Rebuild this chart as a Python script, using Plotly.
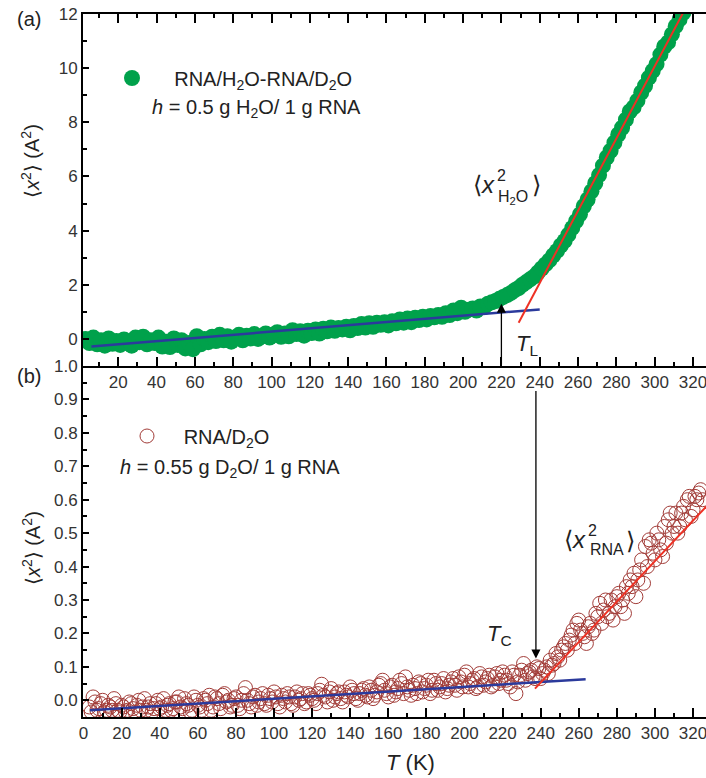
import plotly.graph_objects as go

# ---------------- data ----------------
# (a) RNA/H2O - RNA/D2O, filled green circles
T_a = [3, 5, 7, 9, 11, 13, 15, 17, 19, 21, 23, 25, 27, 29, 31, 33, 35, 37, 39, 41,
       43, 45, 47, 49, 51, 53, 55, 57, 59, 61, 63, 65, 67, 69, 71, 73, 75, 77, 79, 81,
       83, 85, 87, 89, 91, 93, 95, 97, 99, 101, 103, 105, 107, 109, 111, 113, 115, 117, 119, 121,
       123, 125, 127, 129, 131, 133, 135, 137, 139, 141, 143, 145, 147, 149, 151, 153, 155, 157, 159, 161,
       163, 165, 167, 169, 171, 173, 175, 177, 179, 181, 183, 185, 187, 189, 191, 193, 195, 197, 199, 201,
       203, 205, 207, 209, 211, 213, 215, 217, 219, 221, 223, 225, 227, 229, 231, 233, 235, 237, 239, 241,
       243, 245, 247, 249, 251, 253, 255, 257, 259, 261, 263, 265, 267, 269, 271, 273, 275, 277, 279, 281,
       283, 285, 287, 289, 291, 293, 295, 297, 299, 301, 303, 305, 307, 309, 311, 313, 315, 317]
x2_a = [0.00, -0.15, 0.05, -0.20, -0.05, -0.25, 0.02, -0.18, -0.08, -0.22,
        -0.02, -0.15, -0.25, 0.05, -0.12, 0.08, -0.20, -0.05, -0.15, 0.05,
        -0.28, -0.10, -0.30, 0.02, -0.22, -0.05, -0.35, -0.15, -0.38, 0.10,
        -0.20, 0.00, -0.12, 0.08, -0.08, 0.15, -0.05, 0.10, -0.10, 0.05,
        0.15, -0.05, 0.12, 0.02, 0.18, 0.00, 0.10, 0.20, 0.05, 0.15,
        0.25, 0.08, 0.20, 0.10, 0.32, 0.18, 0.28, 0.12, 0.30, 0.22,
        0.35, 0.20, 0.38, 0.28, 0.42, 0.30, 0.40, 0.35, 0.45, 0.32,
        0.48, 0.40, 0.55, 0.42, 0.58, 0.45, 0.60, 0.52, 0.62, 0.50,
        0.65, 0.58, 0.72, 0.60, 0.75, 0.62, 0.78, 0.70, 0.82, 0.72,
        0.85, 0.80, 0.88, 0.82, 0.95, 0.88, 1.05, 0.95, 1.15, 1.00,
        1.08, 1.12, 1.05, 1.20, 1.18, 1.30, 1.35, 1.40, 1.48, 1.55,
        1.62, 1.70, 1.80, 1.88, 2.00, 2.10, 2.20, 2.30, 2.45, 2.60,
        2.75, 2.90, 3.08, 3.25, 3.45, 3.62, 3.85, 4.10, 4.35, 4.60,
        4.90, 5.15, 5.45, 5.75, 6.05, 6.40, 6.70, 6.95, 7.25, 7.55,
        7.80, 8.10, 8.40, 8.55, 8.80, 9.10, 9.35, 9.65, 9.90, 10.15,
        10.50, 10.80, 10.95, 11.25, 11.55, 11.80, 12.05, 12.30]

# (b) RNA/D2O, open circles (two interleaved runs of points)
T_b1 = [3, 5, 7, 9, 11, 13, 15, 17, 19, 21, 23, 25, 27, 29, 31, 33, 35, 37, 39, 41,
        43, 45, 47, 49, 51, 53, 55, 57, 59, 61, 63, 65, 67, 69, 71, 73, 75, 77, 79, 81,
        83, 85, 87, 89, 91, 93, 95, 97, 99, 101, 103, 105, 107, 109, 111, 113, 115, 117, 119, 121,
        123, 125, 127, 129, 131, 133, 135, 137, 139, 141, 143, 145, 147, 149, 151, 153, 155, 157, 159, 161,
        163, 165, 167, 169, 171, 173, 175, 177, 179, 181, 183, 185, 187, 189, 191, 193, 195, 197, 199, 201,
        203, 205, 207, 209, 211, 213, 215, 217, 219, 221, 223, 225, 227, 229, 231, 233, 235, 237, 239, 241,
        243, 245, 247, 249, 251, 253, 255, 257, 259, 261, 263, 265, 267, 269, 271, 273, 275, 277, 279, 281,
        283, 285, 287, 289, 291, 293, 295, 297, 299, 301, 303, 305, 307, 309, 311, 313, 315, 317, 319, 321,
        323, 325]
x2_b1 = [-0.020, 0.010, -0.030, -0.010, -0.035, -0.015, -0.030, -0.010, -0.035, -0.020,
         -0.030, -0.010, -0.035, 0.000, -0.020, -0.030, -0.010, -0.025, 0.000, -0.020,
         -0.030, -0.010, -0.025, -0.005, -0.020, 0.005, -0.015, -0.030, 0.000, -0.020,
         0.005, -0.010, -0.030, 0.010, -0.010, 0.015, -0.005, -0.020, 0.005, -0.015,
         0.000, 0.038, -0.010, 0.010, -0.015, 0.005, -0.010, 0.015, -0.005, 0.010,
         -0.020, 0.005, 0.020, -0.010, 0.010, 0.000, 0.020, -0.005, 0.015, 0.000,
         0.020, 0.048, 0.010, 0.025, 0.000, 0.020, 0.005, 0.025, 0.010, 0.030,
         0.005, 0.020, 0.035, 0.010, 0.030, 0.015, 0.045, 0.060, 0.020, 0.040,
         0.015, 0.035, 0.050, 0.070, 0.030, 0.045, 0.020, 0.050, 0.035, 0.060,
         0.030, 0.050, 0.040, 0.065, 0.035, 0.055, 0.045, 0.070, 0.040, 0.085,
         0.050, 0.065, 0.040, 0.070, 0.055, 0.075, 0.045, 0.080, 0.060, 0.075,
         0.050, 0.085, 0.020, 0.075, 0.110, 0.080, 0.090, 0.065, 0.095, 0.080,
         0.100, 0.120, 0.110, 0.130, 0.150, 0.170, 0.180, 0.210, 0.230, 0.210,
         0.190, 0.220, 0.200, 0.260, 0.290, 0.270, 0.250, 0.300, 0.280, 0.320,
         0.300, 0.340, 0.360, 0.380, 0.360, 0.420, 0.460, 0.480, 0.440, 0.500,
         0.450, 0.520, 0.540, 0.500, 0.560, 0.520, 0.580, 0.600, 0.550, 0.610,
         0.620, 0.600]
T_b2 = [4, 6, 8, 10, 12, 14, 16, 18, 20, 22, 24, 26, 28, 30, 32, 34, 36, 38, 40, 42,
        44, 46, 48, 50, 52, 54, 56, 58, 60, 62, 64, 66, 68, 70, 72, 74, 76, 78, 80, 82,
        84, 86, 88, 90, 92, 94, 96, 98, 100, 102, 104, 106, 108, 110, 112, 114, 116, 118, 120, 122,
        124, 126, 128, 130, 132, 134, 136, 138, 140, 142, 144, 146, 148, 150, 152, 154, 156, 158, 160, 162,
        164, 166, 168, 170, 172, 174, 176, 178, 180, 182, 184, 186, 188, 190, 192, 194, 196, 198, 200, 202,
        204, 206, 208, 210, 212, 214, 216, 218, 220, 222, 224, 226, 228, 230, 232, 234, 236, 238, 240, 242,
        244, 246, 248, 250, 252, 254, 256, 258, 260, 262, 264, 266, 268, 270, 272, 274, 276, 278, 280, 282,
        284, 286, 288, 290, 292, 294, 296, 298, 300, 302, 304, 306, 308, 310, 312, 314, 316, 318, 320, 322,
        324]
x2_b2 = [-0.035, -0.005, -0.025, 0.000, -0.030, -0.020, 0.005, -0.030, -0.015, -0.035,
         -0.005, -0.025, -0.015, -0.030, 0.005, -0.020, -0.035, -0.010, -0.025, 0.005,
         -0.015, -0.030, -0.005, 0.010, -0.025, -0.010, -0.035, 0.010, -0.015, -0.030,
         0.000, 0.015, -0.020, 0.005, -0.025, 0.020, 0.000, -0.015, 0.010, -0.025,
         0.020, 0.000, -0.020, 0.015, -0.005, 0.020, -0.015, 0.005, 0.025, -0.010,
         0.015, -0.005, 0.010, -0.015, 0.025, 0.005, -0.010, 0.020, 0.005, -0.010,
         0.030, 0.015, -0.005, 0.035, 0.010, 0.025, -0.005, 0.015, 0.040, 0.020,
         0.000, 0.030, 0.015, 0.040, 0.005, 0.025, 0.050, 0.030, 0.010, 0.045,
         0.025, 0.060, 0.020, 0.040, 0.015, 0.035, 0.055, 0.025, 0.045, 0.020,
         0.060, 0.030, 0.050, 0.025, 0.045, 0.065, 0.030, 0.055, 0.075, 0.040,
         0.060, 0.035, 0.080, 0.045, 0.065, 0.040, 0.070, 0.050, 0.085, 0.060,
         0.040, 0.075, 0.055, 0.090, 0.060, 0.085, 0.070, 0.100, 0.065, 0.090,
         0.080, 0.105, 0.140, 0.120, 0.160, 0.150, 0.195, 0.170, 0.240, 0.200,
         0.170, 0.230, 0.210, 0.250, 0.230, 0.300, 0.260, 0.240, 0.310, 0.280,
         0.260, 0.320, 0.340, 0.310, 0.390, 0.350, 0.400, 0.470, 0.420, 0.480,
         0.430, 0.470, 0.560, 0.520, 0.500, 0.560, 0.540, 0.610, 0.570, 0.600,
         0.630]

# fitted straight lines (end points)
fit_low_a_T = [6, 240]
fit_low_a_y = [-0.28, 1.09]
fit_high_a_T = [229, 316]
fit_high_a_y = [0.60, 12.2]
fit_low_b_T = [3.4, 263.6]
fit_low_b_y = [-0.030, 0.063]
fit_high_b_T = [237, 327]
fit_high_b_y = [0.035, 0.580]

T_L, T_L_tip, T_L_base = 220, 1.30, -1.0
T_C, T_C_tip, T_C_top = 237.5, 0.125, 0.93

x_ticks_a = list(range(20, 321, 20))
x_ticks_b = list(range(0, 321, 20))
y_ticks_a = [0, 2, 4, 6, 8, 10, 12]
y_ticks_b = [0.0, 0.1, 0.2, 0.3, 0.4, 0.5, 0.6, 0.7, 0.8, 0.9, 1.0]

# ---------------- figure ----------------
W, H = 706, 778
ML, MR, MT, MB = 83, 0, 14, 61
FONT = "Liberation Sans, Arial, sans-serif"
GREEN = "#00a14b"
BROWN = "#a23c38"
BLUE = "#2b3a9c"
RED = "#ee3124"

fig = go.Figure()

fig.add_trace(go.Scatter(x=T_a, y=x2_a, mode="markers", xaxis="x2", yaxis="y2",
                         marker=dict(size=16, color=GREEN, line=dict(width=0)),
                         name="\u00a0\u00a0\u00a0\u00a0RNA/H<sub>2</sub>O-RNA/D<sub>2</sub>O",
                         legend="legend"))
fig.add_trace(go.Scatter(x=fit_low_a_T, y=fit_low_a_y, mode="lines", xaxis="x2", yaxis="y2",
                         line=dict(color=BLUE, width=2.5), showlegend=False))
fig.add_trace(go.Scatter(x=fit_high_a_T, y=fit_high_a_y, mode="lines", xaxis="x2", yaxis="y2",
                         line=dict(color=RED, width=2), showlegend=False))

fig.add_trace(go.Scatter(x=T_b1 + T_b2, y=x2_b1 + x2_b2, mode="markers", xaxis="x", yaxis="y",
                         marker=dict(size=14, color=BROWN, symbol="circle-open",
                                     line=dict(width=1.0, color=BROWN)),
                         name="\u00a0\u00a0\u00a0RNA/D<sub>2</sub>O", legend="legend2"))
fig.add_trace(go.Scatter(x=fit_low_b_T, y=fit_low_b_y, mode="lines", xaxis="x", yaxis="y",
                         line=dict(color=BLUE, width=2.5), showlegend=False))
fig.add_trace(go.Scatter(x=fit_high_b_T, y=fit_high_b_y, mode="lines", xaxis="x", yaxis="y",
                         line=dict(color=RED, width=2), showlegend=False))

def xax(rng, ticks, anchor, mirror):
    return dict(range=rng, tickvals=ticks, ticktext=[str(t) for t in ticks], anchor=anchor,
                showline=True, linecolor="black", linewidth=2, mirror=mirror,
                ticks="inside", ticklen=9, tickwidth=2, tickcolor="black",
                minor=dict(dtick=10, ticks="inside", ticklen=4, tickwidth=2, tickcolor="black"),
                showgrid=False, zeroline=False, ticklabeloverflow="allow",
                tickfont=dict(family=FONT, size=17, color="#333333"))

def yax(rng, ticks, labels, anchor, domain, minor_dtick):
    return dict(range=rng, tickvals=ticks, ticktext=labels, anchor=anchor, domain=domain,
                showline=True, linecolor="black", linewidth=2, mirror=False,
                ticks="inside", ticklen=6, tickwidth=2, tickcolor="black",
                minor=dict(dtick=minor_dtick, ticks="inside", ticklen=4, tickwidth=2, tickcolor="black"),
                showgrid=False, zeroline=False, ticklabeloverflow="allow",
                tickfont=dict(family=FONT, size=17, color="#333333"))

split = (717 - 366) / 703
fig.update_layout(
    width=W, height=H, margin=dict(l=ML, r=MR, t=MT, b=MB),
    paper_bgcolor="white", plot_bgcolor="white",
    font=dict(family=FONT, size=20, color="#222222"),
    xaxis=xax([-0.3, 326.8], x_ticks_b, "y", False),
    xaxis2=xax([1.6, 326.8], x_ticks_a, "y2", "ticks"),
    yaxis=yax([-0.05, 1.0], y_ticks_b, [f"{v:.1f}" for v in y_ticks_b], "x", [0, split], 0.05),
    yaxis2=yax([-1.0, 12], y_ticks_a, [str(v) for v in y_ticks_a], "x2", [split, 1], 1),
    legend=dict(x=(112 - ML) / 623, y=(717 - 78) / 703, xanchor="left", yanchor="middle",
                bgcolor="rgba(0,0,0,0)", font=dict(family=FONT, size=20, color="#222222"),
                itemsizing="trace"),
    legend2=dict(x=(127 - ML) / 623, y=(717 - 436) / 703, xanchor="left", yanchor="middle",
                 bgcolor="rgba(0,0,0,0)", font=dict(family=FONT, size=20, color="#222222"),
                 itemsizing="trace"),
)

def P(px, py):
    return dict(x=(px - ML) / (W - ML - MR), y=(H - MB - py) / (H - MT - MB), xref="paper", yref="paper")

def txt(text, px, py, size=20, xanchor="center", angle=0, color="#222222"):
    d = P(px, py)
    d.update(text=text, showarrow=False, xanchor=xanchor, yanchor="middle", textangle=angle,
             font=dict(family=FONT, size=size, color=color))
    fig.add_annotation(**d)

txt("(a)", 29, 19, 20)
txt("(b)", 29, 376, 20)
txt("\u27e8<i>x</i><sup>2</sup>\u27e9 (A<sup>2</sup>)", 30, 161, 20, angle=-90)
txt("\u27e8<i>x</i><sup>2</sup>\u27e9 (A<sup>2</sup>)", 31, 548, 20, angle=-90)
txt("<i>T</i> (K)", 410, 762, 22)
txt("<i>h</i> = 0.5 g H<sub>2</sub>O/ 1 g RNA", 150, 108, 20, xanchor="left")
txt("<i>h</i> = 0.55 g D<sub>2</sub>O/ 1 g RNA", 118, 468, 20, xanchor="left")

# <x^2_H2O> label
txt("\u27e8<i>x</i>", 497, 184, 24, xanchor="right")
txt("2", 495, 175, 16, xanchor="left")
txt("H<sub>2</sub>O", 496, 198, 16, xanchor="left")
txt("\u27e9", 530, 185, 24, xanchor="left")
# <x^2_RNA> label
txt("\u27e8<i>x</i>", 588, 539, 24, xanchor="right")
txt("2", 586, 530, 16, xanchor="left")
txt("RNA", 588, 549, 16, xanchor="left")
txt("\u27e9", 624, 540, 24, xanchor="left")

txt("<i>T</i><sub>L</sub>", 514, 345, 22, xanchor="left")
txt("<i>T</i><sub>C</sub>", 485, 635, 22, xanchor="left")

fig.add_annotation(x=T_L, y=T_L_tip, ax=T_L, ay=T_L_base, xref="x2", yref="y2", axref="x2", ayref="y2",
                   showarrow=True, arrowhead=2, arrowsize=1.4, arrowwidth=1.3, arrowcolor="black", text="")
fig.add_annotation(x=T_C, y=T_C_tip, ax=T_C, ay=T_C_top, xref="x", yref="y", axref="x", ayref="y",
                   showarrow=True, arrowhead=2, arrowsize=1.4, arrowwidth=1.3, arrowcolor="black", text="")

fig.write_html("out.html")
